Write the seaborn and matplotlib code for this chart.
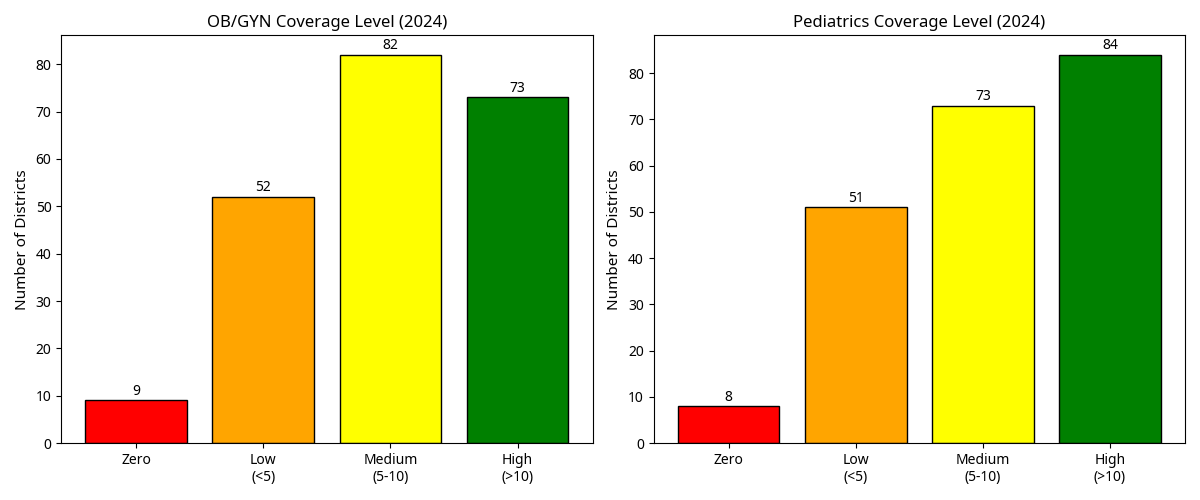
"""Coverage level bar charts for OB/GYN and Pediatrics (2024)."""

import seaborn as sns
import matplotlib
matplotlib.use("Agg")
import matplotlib.pyplot as plt
import pandas as pd

# Data
categories = ["Zero", "Low\n(<5)", "Medium\n(5-10)", "High\n(>10)"]
obgyn_counts = [9, 52, 82, 73]
peds_counts = [8, 51, 73, 84]
bar_colors = ["red", "orange", "yellow", "green"]

sns.set_style("ticks", {
    "text.color": "black",
    "axes.labelcolor": "black",
    "axes.edgecolor": "black",
    "xtick.color": "black",
    "ytick.color": "black",
})
plt.rcParams['font.family'] = ['Noto Sans', 'Noto Sans CJK KR', 'DejaVu Sans']
plt.rcParams['axes.unicode_minus'] = False

fig, axes = plt.subplots(1, 2, figsize=(12, 5), dpi=100)

panels = [
    (axes[0], obgyn_counts, "OB/GYN Coverage Level (2024)"),
    (axes[1], peds_counts, "Pediatrics Coverage Level (2024)"),
]

for ax, counts, title in panels:
    df = pd.DataFrame({"level": categories, "count": counts})
    sns.barplot(
        data=df,
        x="level",
        y="count",
        hue="level",
        palette=bar_colors,
        edgecolor="black",
        linewidth=1,
        width=0.8,
        saturation=1,
        legend=False,
        ax=ax,
    )
    for cont in ax.containers:
        ax.bar_label(cont, padding=1, fontsize=10)
    # same padding as matplotlib's default 5% margins around the bars
    ax.set_xlim(-0.4 - 0.19, 3.4 + 0.19)
    ax.set_ylim(0, max(counts) * 1.05)
    ax.set_title(title, fontsize=12)
    ax.set_xlabel("")
    ax.set_ylabel("Number of Districts", fontsize=11)
    ax.tick_params(labelsize=10)
    for spine in ax.spines.values():
        spine.set_visible(True)

plt.tight_layout()
fig.savefig("out.png", dpi=100)
